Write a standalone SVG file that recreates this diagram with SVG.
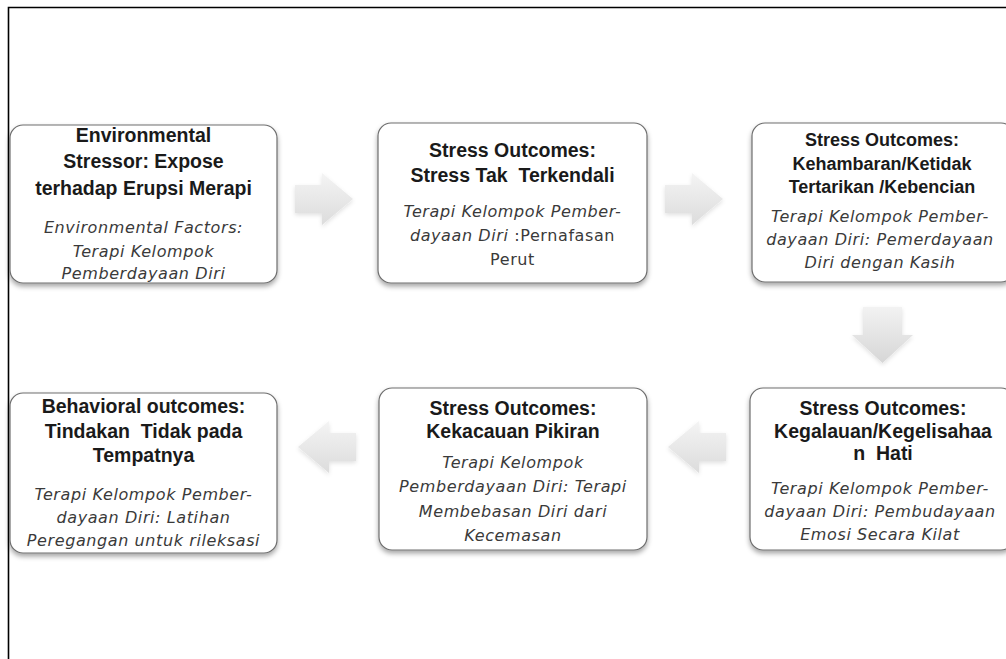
<svg xmlns="http://www.w3.org/2000/svg" width="1006" height="659" viewBox="0 0 1006 659">
<defs>
<filter id="sh" x="-10%" y="-10%" width="120%" height="130%">
<feDropShadow dx="0" dy="3" stdDeviation="2.5" flood-color="#000" flood-opacity="0.35"/>
</filter>
<filter id="ash" x="-20%" y="-20%" width="140%" height="140%">
<feDropShadow dx="0" dy="2" stdDeviation="2" flood-color="#000" flood-opacity="0.12"/>
</filter>
<linearGradient id="ag" x1="0" y1="0" x2="0" y2="1">
<stop offset="0" stop-color="#f4f4f4"/>
<stop offset="1" stop-color="#dcdcdc"/>
</linearGradient>
<linearGradient id="agd" x1="0" y1="0" x2="0" y2="1">
<stop offset="0" stop-color="#f2f2f2"/>
<stop offset="1" stop-color="#d6d6d6"/>
</linearGradient>
</defs>
<style>
.box{fill:#fff;stroke:#6e6e6e;stroke-width:1.2;filter:url(#sh)}
.t{font-family:"Liberation Sans",Arial,sans-serif;font-weight:bold;font-size:19.5px;fill:#1a1a1a;text-anchor:middle;white-space:pre}
.t3{font-size:18px}
.i{font-family:"DejaVu Sans",sans-serif;font-style:italic;font-size:16px;letter-spacing:0.6px;fill:#3a3a3a;text-anchor:middle}
.n{font-style:normal}
.arr{fill:url(#ag);filter:url(#ash)}
</style>
<rect width="1006" height="659" fill="#fff"/>
<path d="M8.5 659 V7.5 H1006" fill="none" stroke="#000" stroke-width="1.6"/>
<g id="connectors">
<path class="arr" d="M295 185 H322 V173 L353 199 L322 225 V213 H295 Z"/>
<path class="arr" d="M665 185 H692 V173 L723 199 L692 225 V213 H665 Z"/>
<path class="arr" style="fill:url(#agd)" d="M863 307 H902 V335 H913 L882.5 363 L852 335 H863 Z"/>
<path class="arr" d="M726 433 H699 V421 L668 447 L699 473 V461 H726 Z"/>
<path class="arr" d="M356 433 H329 V421 L298 447 L329 473 V461 H356 Z"/>
</g>
<g id="n1">
<rect class="box" x="10" y="125" width="267" height="158" rx="13"/>
<text class="t" x="143.5" y="142">Environmental</text>
<text class="t" x="143.5" y="168">Stressor: Expose</text>
<text class="t" x="143.5" y="195">terhadap Erupsi Merapi</text>
<text class="i" x="143.5" y="233">Environmental Factors:</text>
<text class="i" x="143.5" y="257">Terapi Kelompok</text>
<text class="i" x="143.5" y="279">Pemberdayaan Diri</text>
</g>
<g id="n2">
<rect class="box" x="378" y="123" width="269" height="160" rx="13"/>
<text class="t" x="512.5" y="157">Stress Outcomes:</text>
<text class="t" x="512.5" y="182" xml:space="preserve">Stress Tak  Terkendali</text>
<text class="i" x="512.5" y="217">Terapi Kelompok Pember-</text>
<text class="i" x="512.5" y="241">dayaan Diri <tspan class="n">:Pernafasan</tspan></text>
<text class="i n" x="512.5" y="265">Perut</text>
</g>
<g id="n3">
<rect class="box" x="752" y="123" width="262" height="159" rx="13"/>
<text class="t t3" x="882" y="146">Stress Outcomes:</text>
<text class="t t3" x="882" y="170">Kehambaran/Ketidak</text>
<text class="t t3" x="882" y="193">Tertarikan /Kebencian</text>
<text class="i" x="880" y="222">Terapi Kelompok Pember-</text>
<text class="i" x="880" y="245">dayaan Diri: Pemerdayaan</text>
<text class="i" x="880" y="268">Diri dengan Kasih</text>
</g>
<g id="n6">
<rect class="box" x="750" y="388" width="264" height="162" rx="13"/>
<text class="t" x="883" y="415">Stress Outcomes:</text>
<text class="t" x="883" y="438">Kegalauan/Kegelisahaa</text>
<text class="t" x="883" y="460" xml:space="preserve">n  Hati</text>
<text class="i" x="880" y="494">Terapi Kelompok Pember-</text>
<text class="i" x="880" y="517">dayaan Diri: Pembudayaan</text>
<text class="i" x="880" y="540">Emosi Secara Kilat</text>
</g>
<g id="n5">
<rect class="box" x="379" y="388" width="268" height="162" rx="13"/>
<text class="t" x="513" y="415">Stress Outcomes:</text>
<text class="t" x="513" y="438">Kekacauan Pikiran</text>
<text class="i" x="513" y="468">Terapi Kelompok</text>
<text class="i" x="513" y="492">Pemberdayaan Diri: Terapi</text>
<text class="i" x="513" y="517">Membebasan Diri dari</text>
<text class="i" x="513" y="541">Kecemasan</text>
</g>
<g id="n4">
<rect class="box" x="10" y="393" width="267" height="160" rx="13"/>
<text class="t" x="143.5" y="413">Behavioral outcomes:</text>
<text class="t" x="143.5" y="438" xml:space="preserve">Tindakan  Tidak pada</text>
<text class="t" x="143.5" y="462">Tempatnya</text>
<text class="i" x="143.5" y="500">Terapi Kelompok Pember-</text>
<text class="i" x="143.5" y="523">dayaan Diri: Latihan</text>
<text class="i" x="143.5" y="546">Peregangan untuk rileksasi</text>
</g>
</svg>
